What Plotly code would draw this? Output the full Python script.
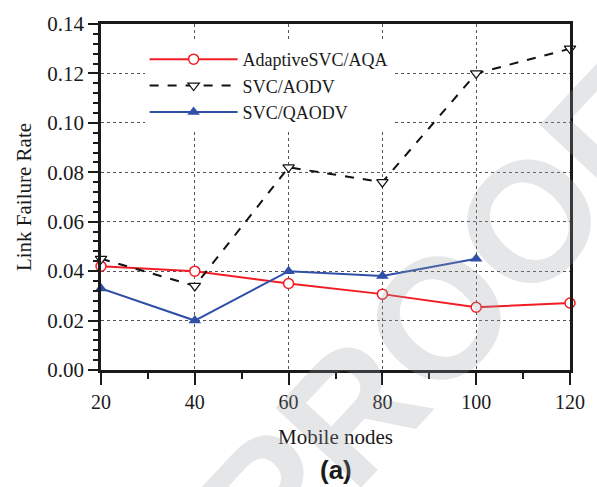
import plotly.graph_objects as go

nodes = [20, 40, 60, 80, 100, 120]
adaptive_aqa = [0.042, 0.040, 0.035, 0.0307, 0.0254, 0.0271]
svc_aodv = [0.045, 0.034, 0.082, 0.076, 0.120, 0.130]
nodes_qaodv = [20, 40, 60, 80, 100]
svc_qaodv = [0.033, 0.020, 0.040, 0.038, 0.045]

serif = "Liberation Serif, Times New Roman, serif"

fig = go.Figure()
fig.add_trace(go.Scatter(
    x=nodes, y=adaptive_aqa, name="AdaptiveSVC/AQA", mode="lines+markers",
    line=dict(color="#f21c24", width=2),
    marker=dict(symbol="circle", size=10, color="white", line=dict(color="#f21c24", width=1.5)),
    cliponaxis=False))
fig.add_trace(go.Scatter(
    x=nodes, y=svc_aodv, name="SVC/AODV", mode="lines+markers",
    line=dict(color="#111111", width=2, dash="dash"),
    marker=dict(symbol="triangle-down", size=10, color="white", line=dict(color="#111111", width=1.2)),
    cliponaxis=False))
fig.add_trace(go.Scatter(
    x=nodes_qaodv, y=svc_qaodv, name="SVC/QAODV", mode="lines+markers",
    line=dict(color="#3050a8", width=2),
    marker=dict(symbol="triangle-up", size=11, color="#3050a8", line=dict(width=0)),
    cliponaxis=False))

fig.update_layout(
    width=597, height=487,
    margin=dict(l=101, r=22, t=19, b=117),
    paper_bgcolor="white", plot_bgcolor="white",
    font=dict(family=serif, size=20, color="#1a1a1a"),
    showlegend=True,
    legend=dict(x=0.093, y=0.951, xanchor="left", yanchor="top",
                bgcolor="white", borderwidth=0, itemwidth=88,
                font=dict(family=serif, size=18, color="#1a1a1a"),
                tracegroupgap=0),
)
fig.update_xaxes(
    range=[20, 120], tickvals=nodes, ticktext=[str(v) for v in nodes],
    ticks="outside", ticklen=12, tickwidth=2, tickcolor="#1a1a1a",
    showline=True, linewidth=2.5, linecolor="#1a1a1a", mirror=True,
    showgrid=True, gridcolor="#555555", gridwidth=1, griddash="dot",
    zeroline=False,
    minor=dict(dtick=10, tick0=20, ticks="outside", ticklen=6, tickwidth=2, tickcolor="#1a1a1a", showgrid=False),
    title=dict(text="Mobile nodes", font=dict(family=serif, size=21), standoff=18),
    tickfont=dict(family=serif, size=20),
)
fig.update_yaxes(
    range=[0, 0.14], tickvals=[0, 0.02, 0.04, 0.06, 0.08, 0.10, 0.12, 0.14],
    tickformat=".2f",
    ticks="outside", ticklen=10, tickwidth=2, tickcolor="#1a1a1a",
    showline=True, linewidth=2.5, linecolor="#1a1a1a", mirror=True,
    showgrid=True, gridcolor="#555555", gridwidth=1, griddash="dot",
    zeroline=False,
    minor=dict(dtick=0.004, tick0=0, ticks="outside", ticklen=5, tickwidth=2, tickcolor="#1a1a1a", showgrid=False),
    title=dict(text="Link Failure Rate", font=dict(family=serif, size=21), standoff=10),
    tickfont=dict(family=serif, size=21),
)

fig.add_annotation(text="<b>(a)</b>", xref="paper", yref="paper", x=0.5, y=-0.29,
                   xanchor="center", yanchor="middle", showarrow=False,
                   font=dict(family="Liberation Sans, Arial, sans-serif", size=26, color="#1a1a1a"))
fig.add_annotation(text="<b>PROOF</b>", xref="paper", yref="paper", x=0.72, y=0.15,
                   xanchor="center", yanchor="middle", showarrow=False, textangle=-47,
                   font=dict(family="Liberation Sans, Arial, sans-serif", size=170,
                             color="rgba(150,155,165,0.25)"))

fig.write_html("out.html")
